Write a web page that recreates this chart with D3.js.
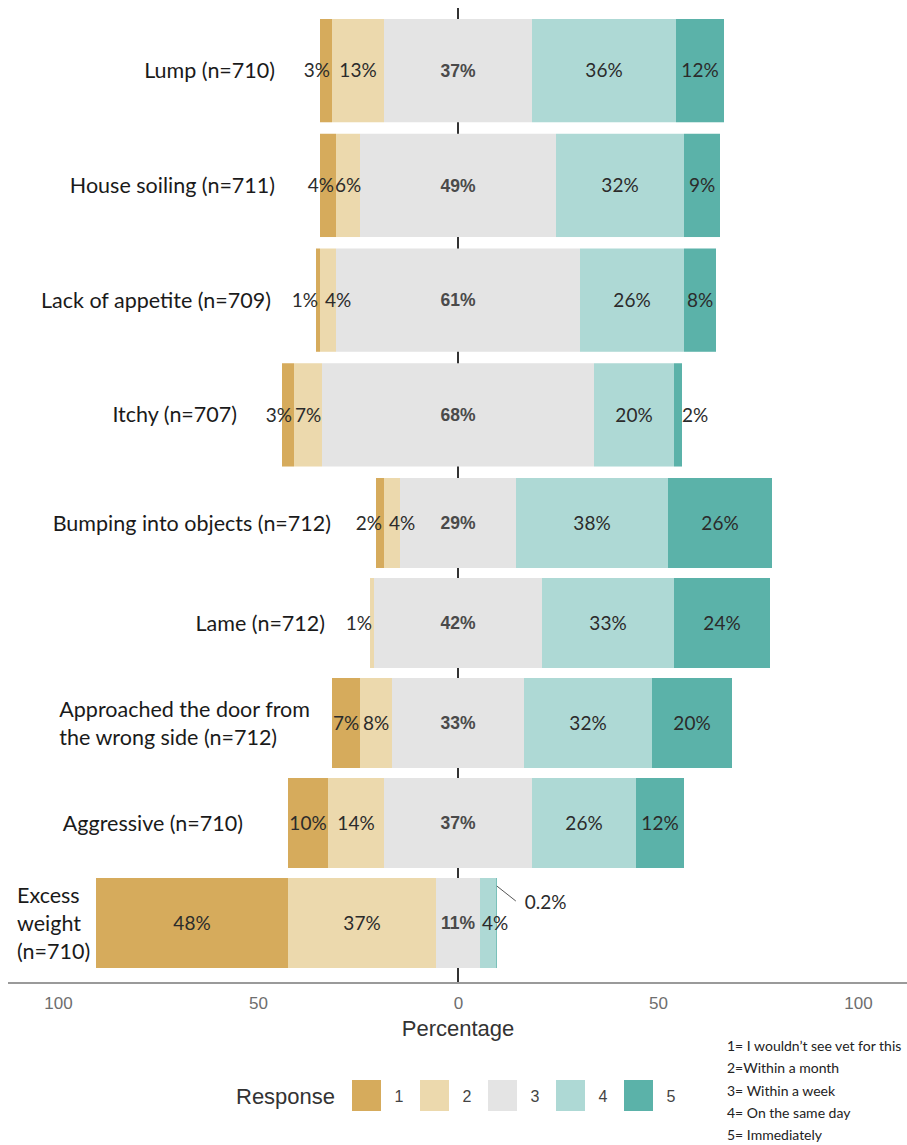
<!DOCTYPE html>
<html>
<head>
<meta charset="utf-8">
<script src="https://cdn.jsdelivr.net/npm/d3@7"></script>
<style>
  body { margin: 0; background: #fff; }
  svg { display: block; }
</style>
</head>
<body>
<svg id="chart" width="907" height="1145"></svg>
<script>
// category labels (one entry per printed line)
var categories = [
  ['Lump (n=710)'],
  ['House soiling (n=711)'],
  ['Lack of appetite (n=709)'],
  ['Itchy (n=707)'],
  ['Bumping into objects (n=712)'],
  ['Lame (n=712)'],
  ['Approached the door from', 'the wrong side (n=712)'],
  ['Aggressive (n=710)'],
  ['Excess', 'weight', '(n=710)']
]

// percentage answering each response, per category
var resp1 = [3, 4, 1, 3, 2, 0, 7, 10, 48]
var resp2 = [13, 6, 4, 7, 4, 1, 8, 14, 37]
var resp3 = [37, 49, 61, 68, 29, 42, 33, 37, 11]
var resp4 = [36, 32, 26, 20, 38, 33, 32, 26, 4]
var resp5 = [12, 9, 8, 2, 26, 24, 20, 12, 0.2]

var responses = ['1', '2', '3', '4', '5']
var responseMeaning = [
  '1= I wouldn\u2019t see vet for this',
  '2=Within a month',
  '3= Within a week',
  '4= On the same day',
  '5= Immediately'
]
var tickValues = [-100, -50, 0, 50, 100]

var colours = ['#d6ab5c', '#ecd9ad', '#e4e4e4', '#aed9d5', '#5bb2a9']

var svg = d3.select('#chart')

var x = d3.scaleLinear().domain([-100, 100]).range([58, 858])
// the rows in the original are taller in the upper half, so a piecewise scale
var y = d3.scaleLinear().domain([0, 4, 9]).range([19, 478, 978])
var colour = d3.scaleOrdinal().domain(responses).range(colours)

// build the diverging stack: response 3 is centred on zero
var rows = categories.map(function(lines, i) {
  var vals = [resp1[i], resp2[i], resp3[i], resp4[i], resp5[i]]
  var start = -vals[2] / 2 - vals[1] - vals[0]
  var segs = vals.map(function(v, k) {
    var s = { key: responses[k], k: k, value: v, x0: start, x1: start + v }
    start += v
    return s
  })
  var top = y(i)
  var h = (y(i + 1) - y(i)) * 0.9
  return { lines: lines, segs: segs, top: top, h: h, mid: top + h / 2 }
})

// zero line behind the bars
svg.append('line')
  .attr('x1', x(0)).attr('x2', x(0))
  .attr('y1', 8).attr('y2', 983)
  .attr('stroke', '#333').attr('stroke-width', 2)

var row = svg.selectAll('g.row')
  .data(rows)
  .enter().append('g')
  .attr('class', 'row')

row.selectAll('rect')
  .data(function(d) { return d.segs.filter(function(s) { return s.value > 0 }).map(function(s) { s.row = d; return s }) })
  .enter().append('rect')
  .attr('x', function(s) { return x(s.x0) })
  .attr('width', function(s) { return x(s.x1) - x(s.x0) })
  .attr('y', function(s) { return s.row.top })
  .attr('height', function(s) { return s.row.h })
  .attr('fill', function(s) { return colour(s.key) })

// percentage labels
row.each(function(d) {
  var g = d3.select(this)
  d.segs.forEach(function(s) {
    if (s.value <= 0) return
    var t = g.append('text')
      .attr('y', d.mid)
      .attr('dy', '0.35em')
      .text(s.value + '%')
    if (s.k === 2) {
      t.attr('x', x((s.x0 + s.x1) / 2))
        .attr('text-anchor', 'middle')
        .style('font-family', '"Liberation Sans", Arial, sans-serif')
        .style('font-weight', 'bold')
        .style('font-size', '17.5px')
        .attr('fill', '#4a4a4a')
      return
    }
    t.style('font-family', 'Lato, sans-serif')
      .style('font-size', '19px')
      .attr('fill', '#2b2b2b')
    var small = s.value < 5
    if (s.value < 1) {
      // tiny slice: callout with a leader line
      var xr = x(s.x1)
      g.append('line')
        .attr('x1', xr).attr('y1', d.top + 8)
        .attr('x2', xr + 19).attr('y2', d.top + 23)
        .attr('stroke', '#555').attr('stroke-width', 1)
      t.attr('x', xr + 28).attr('y', d.top + 24).attr('text-anchor', 'start')
    } else if (s.k === 0 && small) {
      t.attr('x', x(s.x1) - 2).attr('text-anchor', 'end')
    } else if (s.k === 1 && small && d.segs[0].value === 0) {
      t.attr('x', x(s.x0) + 2).attr('text-anchor', 'end')
    } else if ((s.k === 1 || s.k === 3) && small) {
      t.attr('x', x(s.x0) + (s.k === 1 ? 5 : 2)).attr('text-anchor', 'start')
    } else if (s.k === 4 && s.value < 2.5) {
      t.attr('x', x(s.x1)).attr('text-anchor', 'start')
    } else {
      t.attr('x', x((s.x0 + s.x1) / 2)).attr('text-anchor', 'middle')
    }
  })
})

// category labels, right edge a fixed gap left of the bar
row.each(function(d) {
  var g = d3.select(this)
  var barLeft = x(d.segs[0].x0)
  var lineH = 28
  var t = g.append('text')
    .style('font-family', 'Lato, sans-serif')
    .style('font-size', '21.5px')
    .attr('fill', '#1a1a1a')
  d.lines.forEach(function(line, j) {
    t.append('tspan')
      .attr('x', 0)
      .attr('y', d.mid + (j - (d.lines.length - 1) / 2) * lineH)
      .attr('dy', '0.35em')
      .text(line)
  })
  var w = t.node().getBBox().width
  var right = barLeft - (d.lines.length > 1 ? 22 : 45)
  var left = Math.max(17, right - w)
  if (d.lines.length > 1) {
    t.attr('transform', 'translate(' + left + ',0)')
  } else {
    t.attr('text-anchor', 'end').selectAll('tspan').attr('x', right)
  }
})

// bottom axis
svg.append('line')
  .attr('x1', 8).attr('x2', 907)
  .attr('y1', 983).attr('y2', 983)
  .attr('stroke', '#9a9a9a').attr('stroke-width', 2)

var axis = svg.append('g')
  .attr('transform', 'translate(0,983)')
  .call(d3.axisBottom(x).tickValues(tickValues).tickFormat(function(d) { return Math.abs(d) }).tickSize(0).tickPadding(14))
axis.select('.domain').remove()
axis.selectAll('text')
  .style('font-family', '"Liberation Sans", Arial, sans-serif')
  .style('font-size', '17px')
  .attr('fill', '#6e6e6e')

svg.append('text')
  .attr('x', x(0)).attr('y', 1036)
  .attr('text-anchor', 'middle')
  .style('font-family', '"Liberation Sans", Arial, sans-serif')
  .style('font-size', '22px')
  .attr('fill', '#333')
  .text('Percentage')

// legend
svg.append('text')
  .attr('x', 236).attr('y', 1096)
  .attr('dy', '0.35em')
  .style('font-family', '"Liberation Sans", Arial, sans-serif')
  .style('font-size', '22px')
  .attr('fill', '#333')
  .text('Response')

var legend = svg.selectAll('g.key')
  .data(responses)
  .enter().append('g')
  .attr('class', 'key')
  .attr('transform', function(d, i) { return 'translate(' + (352 + i * 68) + ',1080)' })

legend.append('rect')
  .attr('width', 29).attr('height', 31)
  .attr('fill', function(d) { return colour(d) })

legend.append('text')
  .attr('x', 47).attr('y', 16).attr('dy', '0.35em')
  .attr('text-anchor', 'middle')
  .style('font-family', '"Liberation Sans", Arial, sans-serif')
  .style('font-size', '16px')
  .attr('fill', '#444')
  .text(function(d) { return d })

svg.selectAll('text.meaning')
  .data(responseMeaning)
  .enter().append('text')
  .attr('class', 'meaning')
  .attr('x', 727)
  .attr('y', function(d, i) { return 1051 + i * 22.3 })
  .style('font-family', 'Lato, sans-serif')
  .style('font-size', '14px')
  .attr('fill', '#222')
  .text(function(d) { return d })
</script>
</body>
</html>
